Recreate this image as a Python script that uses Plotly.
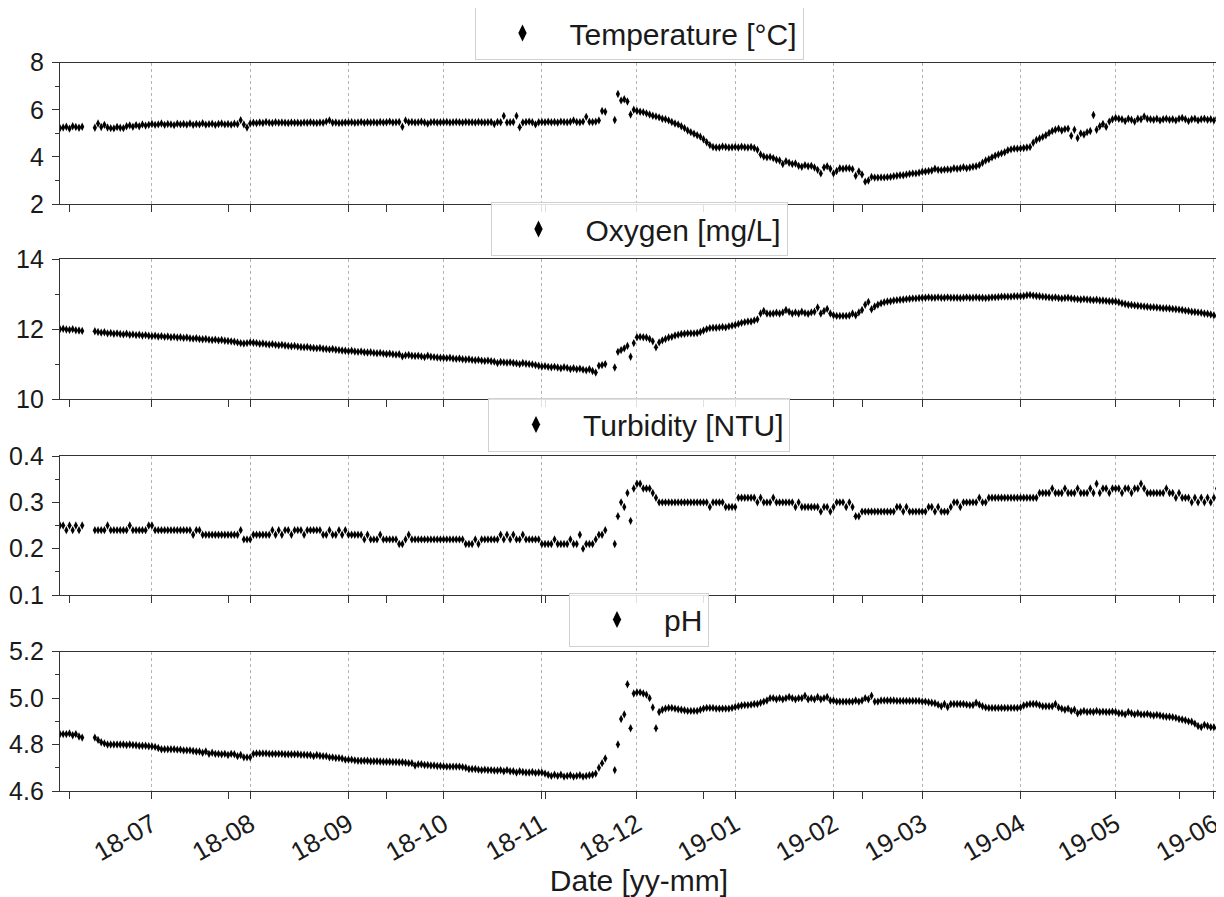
import pandas as pd
import plotly.graph_objects as go

# ---------------- data (daily values) ----------------
START_DATE = "2018-06-02"

temperature = [
    # Jun 2018
    5.22, 5.25, 5.28, 5.20, 5.30, 5.27, 5.24, 5.28, None, None,
    None, 5.24, 5.42, 5.27, 5.36, 5.25, 5.22, 5.21, 5.27, 5.24,
    5.22, 5.30, 5.34, 5.28, 5.35, 5.30, 5.38, 5.33, 5.36,
    # Jul
    5.40, 5.36, 5.38, 5.42, 5.36, 5.40, 5.38, 5.35, 5.41, 5.38,
    5.40, 5.37, 5.42, 5.36, 5.40, 5.38, 5.43, 5.37, 5.39, 5.41,
    5.36, 5.40, 5.42, 5.38, 5.40, 5.37, 5.41, 5.39, 5.56, 5.38,
    5.25,
    # Aug
    5.42, 5.45, 5.43, 5.46, 5.44, 5.48, 5.45, 5.44, 5.47, 5.45,
    5.46, 5.45, 5.44, 5.46, 5.45, 5.45, 5.44, 5.46, 5.45, 5.47,
    5.45, 5.44, 5.46, 5.45, 5.50, 5.55, 5.45, 5.46, 5.44, 5.45,
    5.46,
    # Sep
    5.46, 5.47, 5.45, 5.46, 5.48, 5.45, 5.47, 5.46, 5.47, 5.45,
    5.48, 5.46, 5.47, 5.50, 5.46, 5.47, 5.48, 5.28, 5.55, 5.47,
    5.48, 5.46, 5.47, 5.49, 5.46, 5.42, 5.47, 5.48, 5.46, 5.47,
    # Oct
    5.47, 5.48, 5.46, 5.47, 5.48, 5.47, 5.46, 5.48, 5.47, 5.47,
    5.46, 5.48, 5.47, 5.46, 5.47, 5.48, 5.40, 5.48, 5.47, 5.74,
    5.46, 5.47, 5.48, 5.74, 5.26, 5.46, 5.48, 5.50, 5.47, 5.38,
    5.47,
    # Nov
    5.48, 5.47, 5.49, 5.47, 5.48, 5.46, 5.50, 5.48, 5.47, 5.49,
    5.55, 5.48, 5.47, 5.50, 5.70, 5.49, 5.48, 5.50, 5.55, 5.95,
    5.92, None, None, 5.57, 6.67, 6.40, 6.45, 6.35, 5.80, 6.00,
    # Dec
    5.95, 5.92, 5.90, 5.85, 5.80, 5.75, 5.72, 5.68, 5.62, 5.60,
    5.55, 5.48, 5.42, 5.38, 5.30, 5.22, 5.12, 5.05, 4.98, 4.92,
    4.86, 4.75, 4.62, 4.50, 4.42, 4.40, 4.40, 4.44, 4.42, 4.40,
    4.41,
    # Jan 2019
    4.42, 4.40, 4.43, 4.41, 4.40, 4.42, 4.38, 4.30, 4.10, 4.02,
    3.98, 4.00, 3.95, 3.88, 3.85, 3.70, 3.82, 3.75, 3.70, 3.72,
    3.62, 3.58, 3.65, 3.60, 3.62, 3.55, 3.45, 3.30, 3.55, 3.60,
    3.50,
    # Feb
    3.30, 3.40, 3.52, 3.50, 3.52, 3.52, 3.48, 3.20, 3.38, 3.25,
    2.95, 3.00, 3.15, 3.12, 3.12, 3.13, 3.13, 3.14, 3.15, 3.18,
    3.20, 3.22, 3.22, 3.25, 3.28, 3.30, 3.30, 3.33,
    # Mar
    3.37, 3.38, 3.40, 3.42, 3.50, 3.45, 3.44, 3.46, 3.47, 3.46,
    3.52, 3.50, 3.52, 3.56, 3.52, 3.55, 3.58, 3.60, 3.65, 3.75,
    3.85, 3.90, 3.98, 4.05, 4.10, 4.15, 4.20, 4.28, 4.32, 4.35,
    4.35,
    # Apr
    4.36, 4.38, 4.40, 4.42, 4.60, 4.72, 4.78, 4.85, 4.92, 5.02,
    5.10, 5.15, 5.20, 5.12, 5.18, 5.20, 4.90, 5.15, 4.80, 5.00,
    4.95, 5.05, 5.10, 5.78, 5.15, 5.30, 5.40, 5.28, 5.50, 5.60,
    # May
    5.65, 5.62, 5.60, 5.52, 5.62, 5.58, 5.50, 5.62, 5.60, 5.72,
    5.62, 5.60, 5.58, 5.62, 5.55, 5.60, 5.62, 5.58, 5.60, 5.55,
    5.62, 5.65, 5.60, 5.52, 5.60, 5.62, 5.55, 5.60, 5.62, 5.58,
    5.60,
    # Jun
    5.55, 5.65,
]

oxygen = [
    # Jun 2018
    12.00, 12.01, 11.99, 11.98, 12.00, 11.97, 11.96, 11.95, None, None,
    None, 11.94, 11.92, 11.90, 11.91, 11.88, 11.89, 11.87, 11.88, 11.86,
    11.85, 11.87, 11.84, 11.85, 11.83, 11.84, 11.82, 11.83, 11.81,
    # Jul
    11.80, 11.81, 11.79, 11.80, 11.78, 11.79, 11.77, 11.78, 11.76, 11.77,
    11.75, 11.76, 11.74, 11.73, 11.74, 11.72, 11.71, 11.72, 11.70, 11.69,
    11.70, 11.68, 11.69, 11.67, 11.66, 11.65, 11.64, 11.62, 11.60, 11.59,
    11.60,
    # Aug
    11.62, 11.61, 11.60, 11.58, 11.59, 11.57, 11.56, 11.57, 11.55, 11.54,
    11.55, 11.53, 11.52, 11.51, 11.52, 11.50, 11.49, 11.48, 11.49, 11.47,
    11.46, 11.45, 11.46, 11.44, 11.43, 11.42, 11.43, 11.41, 11.40, 11.39,
    11.38,
    # Sep
    11.37, 11.38, 11.36, 11.35, 11.36, 11.34, 11.33, 11.34, 11.32, 11.31,
    11.32, 11.30, 11.29, 11.30, 11.28, 11.27, 11.28, 11.22, 11.25, 11.26,
    11.24, 11.23, 11.24, 11.22, 11.20, 11.24, 11.21, 11.20, 11.19, 11.18,
    # Oct
    11.18, 11.17, 11.18, 11.16, 11.15, 11.16, 11.14, 11.13, 11.14, 11.12,
    11.11, 11.12, 11.10, 11.09, 11.10, 11.08, 11.07, 11.03, 11.06, 11.05,
    11.04, 11.05, 11.03, 11.02, 11.00, 11.03, 11.01, 11.00, 10.99, 10.97,
    10.95,
    # Nov
    10.93, 10.94, 10.92, 10.91, 10.92, 10.90, 10.88, 10.91, 10.89, 10.86,
    10.88, 10.85, 10.87, 10.84, 10.82, 10.85, 10.80, 10.76, 10.95, 10.97,
    11.00, None, None, 10.90, 11.35, 11.40, 11.45, 11.52, 11.21, 11.60,
    # Dec
    11.77, 11.78, 11.77, 11.76, 11.72, 11.65, 11.48, 11.62, 11.68, 11.72,
    11.76, 11.78, 11.82, 11.84, 11.86, 11.87, 11.88, 11.88, 11.88, 11.89,
    11.92, 11.96, 12.00, 12.03, 12.04, 12.04, 12.05, 12.06, 12.05, 12.08,
    12.10,
    # Jan 2019
    12.12, 12.15, 12.18, 12.20, 12.22, 12.22, 12.25, 12.28, 12.45, 12.52,
    12.45, 12.44, 12.45, 12.47, 12.45, 12.48, 12.55, 12.50, 12.45, 12.48,
    12.45, 12.50, 12.46, 12.44, 12.48, 12.50, 12.62, 12.45, 12.52, 12.58,
    12.45,
    # Feb
    12.40, 12.38, 12.38, 12.38, 12.38, 12.39, 12.45, 12.40, 12.48, 12.55,
    12.70, 12.78, 12.57, 12.65, 12.70, 12.74, 12.77, 12.79, 12.80, 12.82,
    12.83, 12.84, 12.85, 12.86, 12.87, 12.88, 12.88, 12.89,
    # Mar
    12.90, 12.90, 12.91, 12.90, 12.90, 12.91, 12.90, 12.90, 12.91, 12.90,
    12.90, 12.90, 12.89, 12.90, 12.91, 12.90, 12.90, 12.91, 12.90, 12.90,
    12.89, 12.90, 12.91, 12.91, 12.92, 12.93, 12.93, 12.93, 12.93, 12.94,
    12.94,
    # Apr
    12.94, 12.95, 12.97, 12.98, 12.96, 12.95, 12.94, 12.93, 12.92, 12.91,
    12.90, 12.91, 12.89, 12.88, 12.89, 12.90, 12.88, 12.87, 12.86, 12.85,
    12.86, 12.85, 12.84, 12.83, 12.84, 12.82, 12.82, 12.81, 12.80, 12.80,
    # May
    12.79, 12.77, 12.74, 12.72, 12.70, 12.69, 12.68, 12.67, 12.66, 12.65,
    12.64, 12.63, 12.63, 12.62, 12.61, 12.60, 12.60, 12.59, 12.58, 12.57,
    12.56, 12.55, 12.53, 12.52, 12.50, 12.49, 12.48, 12.47, 12.45, 12.44,
    12.42,
    # Jun
    12.40, 12.37,
]

turbidity = [
    # Jun 2018
    0.25, 0.25, 0.24, 0.25, 0.24, 0.25, 0.24, 0.25, None, None,
    None, 0.24, 0.24, 0.24, 0.24, 0.25, 0.24, 0.24, 0.24, 0.24,
    0.24, 0.24, 0.25, 0.24, 0.24, 0.24, 0.24, 0.24, 0.25,
    # Jul
    0.25, 0.24, 0.24, 0.24, 0.24, 0.24, 0.24, 0.24, 0.24, 0.24,
    0.24, 0.24, 0.24, 0.23, 0.24, 0.24, 0.23, 0.23, 0.23, 0.23,
    0.23, 0.23, 0.23, 0.23, 0.23, 0.23, 0.23, 0.23, 0.24, 0.22,
    0.22,
    # Aug
    0.22, 0.23, 0.23, 0.23, 0.23, 0.23, 0.23, 0.24, 0.23, 0.24,
    0.23, 0.24, 0.24, 0.23, 0.24, 0.24, 0.24, 0.23, 0.24, 0.24,
    0.24, 0.24, 0.24, 0.23, 0.23, 0.24, 0.23, 0.23, 0.24, 0.23,
    0.24,
    # Sep
    0.23, 0.23, 0.23, 0.23, 0.23, 0.22, 0.23, 0.22, 0.22, 0.22,
    0.23, 0.22, 0.22, 0.22, 0.22, 0.22, 0.21, 0.21, 0.22, 0.23,
    0.22, 0.22, 0.22, 0.22, 0.22, 0.22, 0.22, 0.22, 0.22, 0.22,
    # Oct
    0.22, 0.22, 0.22, 0.22, 0.22, 0.22, 0.22, 0.21, 0.21, 0.21,
    0.22, 0.21, 0.22, 0.22, 0.22, 0.22, 0.22, 0.22, 0.23, 0.22,
    0.23, 0.22, 0.23, 0.22, 0.22, 0.23, 0.22, 0.22, 0.22, 0.22,
    0.22,
    # Nov
    0.21, 0.21, 0.21, 0.21, 0.22, 0.21, 0.21, 0.21, 0.21, 0.22,
    0.21, 0.21, 0.23, 0.20, 0.21, 0.21, 0.21, 0.22, 0.23, 0.23,
    0.24, None, None, 0.21, 0.27, 0.30, 0.29, 0.32, 0.26, 0.33,
    # Dec
    0.34, 0.34, 0.33, 0.33, 0.33, 0.32, 0.31, 0.30, 0.30, 0.30,
    0.30, 0.30, 0.30, 0.30, 0.30, 0.30, 0.30, 0.30, 0.30, 0.30,
    0.30, 0.30, 0.30, 0.29, 0.30, 0.30, 0.30, 0.30, 0.29, 0.29,
    0.29,
    # Jan 2019
    0.29, 0.31, 0.31, 0.31, 0.31, 0.31, 0.31, 0.30, 0.31, 0.30,
    0.30, 0.30, 0.31, 0.30, 0.30, 0.30, 0.30, 0.30, 0.30, 0.29,
    0.30, 0.29, 0.29, 0.29, 0.29, 0.29, 0.29, 0.28, 0.29, 0.29,
    0.28,
    # Feb
    0.29, 0.30, 0.30, 0.30, 0.29, 0.30, 0.29, 0.27, 0.27, 0.28,
    0.28, 0.28, 0.28, 0.28, 0.28, 0.28, 0.28, 0.28, 0.28, 0.28,
    0.29, 0.29, 0.28, 0.29, 0.28, 0.28, 0.28, 0.28,
    # Mar
    0.28, 0.28, 0.29, 0.29, 0.28, 0.29, 0.28, 0.28, 0.28, 0.29,
    0.30, 0.30, 0.29, 0.30, 0.30, 0.30, 0.30, 0.30, 0.31, 0.30,
    0.30, 0.31, 0.31, 0.31, 0.31, 0.31, 0.31, 0.31, 0.31, 0.31,
    0.31,
    # Apr
    0.31, 0.31, 0.31, 0.31, 0.31, 0.31, 0.32, 0.32, 0.32, 0.32,
    0.33, 0.32, 0.32, 0.32, 0.33, 0.32, 0.32, 0.32, 0.33, 0.32,
    0.32, 0.32, 0.33, 0.32, 0.34, 0.32, 0.33, 0.33, 0.32, 0.33,
    # May
    0.33, 0.33, 0.32, 0.33, 0.33, 0.32, 0.33, 0.33, 0.34, 0.33,
    0.32, 0.32, 0.32, 0.32, 0.32, 0.32, 0.33, 0.32, 0.32, 0.31,
    0.32, 0.31, 0.31, 0.31, 0.30, 0.31, 0.30, 0.31, 0.30, 0.31,
    0.30,
    # Jun
    0.31, 0.33,
]

ph = [
    # Jun 2018
    4.845, 4.845, 4.845, 4.848, 4.840, 4.845, 4.835, 4.830, None, None,
    None, 4.830, 4.820, 4.810, 4.805, 4.800, 4.800, 4.800, 4.800, 4.800,
    4.800, 4.798, 4.800, 4.798, 4.797, 4.795, 4.795, 4.795, 4.793,
    # Jul
    4.792, 4.790, 4.785, 4.780, 4.780, 4.780, 4.780, 4.780, 4.778, 4.778,
    4.775, 4.775, 4.775, 4.772, 4.770, 4.770, 4.765, 4.770, 4.760, 4.765,
    4.760, 4.760, 4.758, 4.760, 4.755, 4.760, 4.758, 4.750, 4.755, 4.745,
    4.745,
    # Aug
    4.745, 4.760, 4.762, 4.762, 4.762, 4.762, 4.760, 4.760, 4.760, 4.760,
    4.760, 4.758, 4.758, 4.758, 4.758, 4.758, 4.756, 4.756, 4.755, 4.755,
    4.750, 4.755, 4.752, 4.750, 4.750, 4.745, 4.745, 4.742, 4.742, 4.740,
    4.735,
    # Sep
    4.735, 4.735, 4.732, 4.730, 4.730, 4.730, 4.730, 4.728, 4.728, 4.728,
    4.727, 4.726, 4.726, 4.726, 4.725, 4.725, 4.724, 4.724, 4.722, 4.720,
    4.720, 4.710, 4.715, 4.715, 4.712, 4.712, 4.710, 4.710, 4.708, 4.708,
    # Oct
    4.706, 4.705, 4.705, 4.705, 4.705, 4.705, 4.703, 4.700, 4.695, 4.695,
    4.695, 4.692, 4.690, 4.692, 4.690, 4.690, 4.688, 4.688, 4.690, 4.685,
    4.690, 4.685, 4.685, 4.680, 4.685, 4.682, 4.680, 4.680, 4.682, 4.678,
    4.680,
    # Nov
    4.680, 4.675, 4.670, 4.665, 4.670, 4.665, 4.670, 4.662, 4.665, 4.668,
    4.662, 4.665, 4.668, 4.662, 4.665, 4.668, 4.670, 4.675, 4.700, 4.720,
    4.740, None, None, 4.690, 4.800, 4.910, 4.930, 5.060, 4.870, 5.020,
    # Dec
    5.025, 5.025, 5.020, 5.015, 5.000, 4.960, 4.870, 4.940, 4.950, 4.955,
    4.958, 4.958, 4.955, 4.952, 4.950, 4.948, 4.945, 4.945, 4.945, 4.945,
    4.950, 4.955, 4.958, 4.958, 4.958, 4.955, 4.955, 4.955, 4.955, 4.955,
    4.958,
    # Jan 2019
    4.962, 4.965, 4.968, 4.970, 4.970, 4.972, 4.975, 4.975, 4.980, 4.985,
    4.990, 5.000, 5.000, 4.995, 5.000, 4.995, 5.000, 5.005, 5.000, 4.995,
    5.000, 5.000, 5.010, 4.995, 5.000, 4.995, 5.005, 4.995, 5.000, 5.005,
    4.990,
    # Feb
    4.990, 4.985, 4.985, 4.985, 4.985, 4.985, 4.985, 4.990, 4.985, 4.990,
    5.000, 4.995, 5.010, 4.985, 4.985, 4.990, 4.990, 4.990, 4.990, 4.990,
    4.988, 4.988, 4.988, 4.988, 4.988, 4.988, 4.988, 4.988,
    # Mar
    4.985, 4.985, 4.982, 4.980, 4.978, 4.972, 4.965, 4.975, 4.962, 4.975,
    4.975, 4.975, 4.975, 4.975, 4.972, 4.970, 4.970, 4.980, 4.972, 4.965,
    4.960, 4.958, 4.958, 4.958, 4.958, 4.958, 4.958, 4.958, 4.958, 4.958,
    4.958,
    # Apr
    4.960, 4.968, 4.972, 4.975, 4.975, 4.975, 4.970, 4.965, 4.965, 4.965,
    4.965, 4.975, 4.960, 4.955, 4.950, 4.955, 4.945, 4.950, 4.935, 4.940,
    4.945, 4.940, 4.942, 4.940, 4.945, 4.940, 4.942, 4.940, 4.940, 4.942,
    # May
    4.940, 4.935, 4.935, 4.930, 4.940, 4.935, 4.930, 4.935, 4.930, 4.930,
    4.932, 4.928, 4.925, 4.928, 4.925, 4.922, 4.920, 4.920, 4.918, 4.915,
    4.910, 4.908, 4.905, 4.900, 4.898, 4.890, 4.880, 4.875, 4.885, 4.880,
    4.875,
    # Jun
    4.875, 4.870,
]

series_names = ["Temperature [°C]", "Oxygen [mg/L]", "Turbidity [NTU]", "pH"]
y_ranges = [[2, 8], [10, 14], [0.1, 0.4], [4.6, 5.2]]
y_dticks = [2, 2, 0.1, 0.2]
y_minor = [1, 1, 0.05, 0.1]
y_formats = ["d", "d", ".1f", ".1f"]
x_title = "Date [yy-mm]"

# ---------------- figure ----------------
FONT = "Liberation Sans, Arial, Helvetica, sans-serif"
AX = "#333333"
TXT = "#1a1a1a"
# the page body adds an 8 px offset, so the figure itself is 8 px smaller
W, H = 1216, 889
ML, MR = 52, 6

# panel pixel extents (top, bottom) inside the figure
panels_px = [(54.7, 196.0), (251.3, 391.0), (448.0, 587.0), (643.7, 783.0)]
legend_bottom_px = [52.0, 248.0, 443.5, 638.5]

n = len(temperature)
dates = pd.date_range(START_DATE, periods=n, freq="D")
all_series = [temperature, oxygen, turbidity, ph]

fig = go.Figure()
for i, (name, vals) in enumerate(zip(series_names, all_series)):
    k = "" if i == 0 else str(i + 1)
    fig.add_trace(go.Scatter(
        x=dates, y=vals, mode="markers", name=name,
        xaxis="x" + k, yaxis="y" + k,
        legend="legend" + k,
        marker=dict(symbol="diamond-tall", size=6, color="black",
                    line=dict(width=0)),
        showlegend=True,
    ))

x_range = ["2018-06-02 00:00", "2019-06-02 07:00"]

layout = dict(
    width=W, height=H,
    margin=dict(l=ML, r=MR, t=0, b=0, autoexpand=False),
    paper_bgcolor="white", plot_bgcolor="white",
    font=dict(family=FONT, size=25, color=TXT),
)

for i in range(4):
    k = "" if i == 0 else str(i + 1)
    top, bot = panels_px[i]
    dom = [(H - bot) / H, (H - top) / H]
    xa = dict(
        type="date", range=x_range, domain=[0, 1], anchor="y" + k,
        tick0="2018-07-01", dtick="M1", tickformat="%y-%m",
        ticks="outside", ticklen=7, tickwidth=1.2, tickcolor=AX,
        showline=True, linecolor=AX, linewidth=1.3, mirror=True,
        showgrid=True, gridcolor="#b4b4b4", griddash="dot", gridwidth=1,
        zeroline=False, showticklabels=(i == 3), tickangle=-30,
        tickfont=dict(size=26, family=FONT, color=TXT),
        minor=dict(ticks="outside", ticklen=7, tickwidth=1.2, tickcolor=AX,
                   tick0="2018-06-05", dtick=50 * 86400000, showgrid=False),
        automargin=False,
    )
    if i > 0:
        xa["matches"] = "x"
    if i == 3:
        xa["title"] = dict(text=x_title, font=dict(size=30, family=FONT, color=TXT),
                           standoff=2)
    ya = dict(
        range=y_ranges[i], domain=dom, anchor="x" + k,
        dtick=y_dticks[i], tick0=y_ranges[i][0], tickformat=y_formats[i],
        ticks="outside", ticklen=7, tickwidth=1.2, tickcolor=AX,
        showline=True, linecolor=AX, linewidth=1.3, mirror=True,
        showgrid=False, zeroline=False, ticklabelstandoff=3,
        tickfont=dict(size=25, family=FONT, color=TXT),
        minor=dict(ticks="outside", ticklen=4, tickwidth=1.2, tickcolor=AX,
                   dtick=y_minor[i], tick0=y_ranges[i][0], showgrid=False),
        automargin=False,
    )
    layout["xaxis" + k] = xa
    layout["yaxis" + k] = ya
    layout["legend" + k] = dict(
        x=0.5, xanchor="center",
        y=(H - legend_bottom_px[i]) / H, yanchor="bottom",
        bgcolor="rgba(255,255,255,0.85)", bordercolor="#d0d0d0", borderwidth=1,
        font=dict(size=30, family=FONT, color=TXT),
        itemsizing="constant", itemwidth=84,
    )

fig.update_layout(**layout)
fig.write_html("out.html")
